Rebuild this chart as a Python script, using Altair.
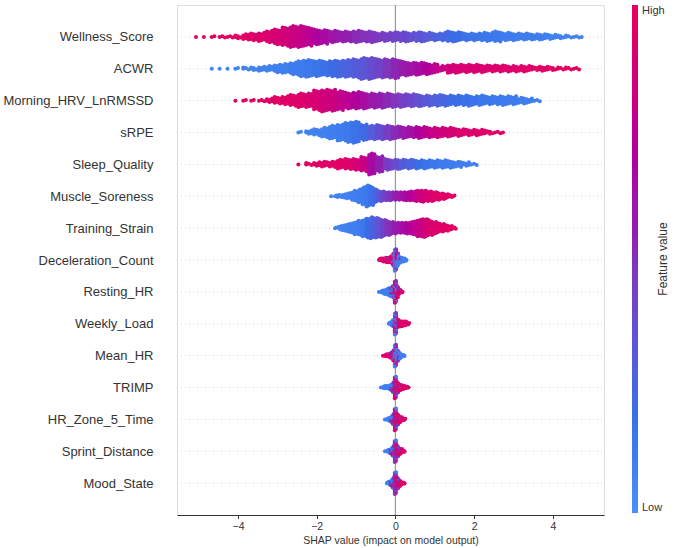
import math

import altair as alt
import pandas as pd

# Features, top row first
FEATURES = [
    "Wellness_Score", "ACWR", "Morning_HRV_LnRMSSD", "sRPE", "Sleep_Quality",
    "Muscle_Soreness", "Training_Strain", "Deceleration_Count", "Resting_HR",
    "Weekly_Load", "Mean_HR", "TRIMP", "HR_Zone_5_Time", "Sprint_Distance",
    "Mood_State",
]

X_TICKS = [-4, -2, 0, 2, 4]
X_DOMAIN = [-5.55, 5.3]

# SHAP values are binned: centre of the first bin and bin width for each feature
BIN_START = [-5.0, -4.6, -4.0, -2.4, -2.4, -1.6, -1.5,
             -0.4, -0.4, -0.4, -0.4, -0.4, -0.4, -0.4, -0.4]
BIN_STEP = [0.2, 0.2, 0.2, 0.2, 0.2, 0.1, 0.1,
            0.05, 0.05, 0.05, 0.05, 0.05, 0.05, 0.05, 0.05]

# Samples per bin (_N) and mean normalised feature value per bin (_FV)
WELLNESS_SCORE_N = [1, 1, 2, 3, 3, 5, 9, 11, 13, 18, 23, 28, 32, 32, 28, 23, 21, 18, 16, 16,
                    18, 16, 17, 13, 13, 14, 15, 13, 15, 13, 11, 12, 16, 14, 11, 11, 12, 13, 16, 12,
                    11, 10, 10, 9, 8, 7, 5, 4, 3, 1]
WELLNESS_SCORE_FV = [0.97, 0.97, 0.96, 0.96, 0.95, 0.95, 0.94, 0.93, 0.92, 0.9, 0.88, 0.85, 0.82,
                     0.78, 0.74, 0.7, 0.66, 0.62, 0.58, 0.55, 0.52, 0.5, 0.48, 0.46, 0.44, 0.42,
                     0.4, 0.37, 0.34, 0.31, 0.28, 0.25, 0.22, 0.2, 0.18, 0.16, 0.15, 0.14, 0.13,
                     0.12, 0.12, 0.11, 0.11, 0.1, 0.1, 0.09, 0.09, 0.08, 0.08, 0.08]

ACWR_N = [1, 1, 1, 2, 4, 5, 7, 8, 12, 14, 18, 24, 26, 24, 22, 24, 25, 26, 28, 32,
          32, 28, 28, 29, 22, 19, 19, 17, 14, 8, 13, 13, 12, 12, 11, 10, 10, 10, 9, 9,
          8, 6, 7, 5, 4, 4, 3]
ACWR_FV = [0.06, 0.06, 0.07, 0.07, 0.08, 0.08, 0.09, 0.09, 0.1, 0.1, 0.11, 0.12, 0.14, 0.16,
           0.18, 0.21, 0.24, 0.27, 0.3, 0.34, 0.38, 0.43, 0.48, 0.53, 0.58, 0.62, 0.66, 0.7,
           0.74, 0.8, 0.86, 0.88, 0.9, 0.9, 0.91, 0.92, 0.92, 0.93, 0.93, 0.94, 0.94, 0.95,
           0.95, 0.96, 0.96, 0.97, 0.97]

MORNING_HRV_N = [1, 2, 2, 3, 6, 10, 12, 16, 20, 20, 28, 31, 30, 27, 23, 24, 23, 21, 21, 20,
                 19, 19, 18, 17, 15, 15, 16, 14, 14, 15, 13, 14, 12, 12, 13, 12, 9, 7, 3]
MORNING_HRV_FV = [0.97, 0.97, 0.96, 0.96, 0.95, 0.95, 0.94, 0.93, 0.92, 0.9, 0.88, 0.85, 0.82,
                  0.78, 0.74, 0.7, 0.65, 0.6, 0.56, 0.52, 0.48, 0.44, 0.4, 0.36, 0.32, 0.28,
                  0.25, 0.22, 0.2, 0.18, 0.16, 0.15, 0.14, 0.13, 0.12, 0.12, 0.11, 0.1, 0.1]

SRPE_N = [2, 6, 10, 15, 20, 25, 30, 32, 24, 21, 22, 21, 19, 17, 16, 17, 16, 15, 14, 14,
          11, 10, 9, 8, 5, 3, 1]
SRPE_FV = [0.08, 0.08, 0.09, 0.09, 0.1, 0.11, 0.13, 0.17, 0.22, 0.3, 0.38, 0.45, 0.52, 0.58,
           0.64, 0.7, 0.76, 0.8, 0.84, 0.87, 0.9, 0.91, 0.92, 0.93, 0.94, 0.95, 0.96]

SLEEP_QUALITY_N = [1, 4, 6, 8, 9, 14, 16, 17, 22, 32, 24, 17, 15, 14, 14, 13, 13, 12, 12, 11,
                   9, 6, 3]
SLEEP_QUALITY_FV = [0.97, 0.96, 0.96, 0.95, 0.95, 0.94, 0.92, 0.88, 0.8, 0.66, 0.55, 0.45, 0.38,
                    0.3, 0.25, 0.2, 0.16, 0.14, 0.12, 0.11, 0.1, 0.1, 0.09]

MUSCLE_SORENESS_N = [1, 3, 4, 6, 8, 12, 16, 20, 26, 32, 28, 20, 15, 14, 13, 13, 12, 12, 12, 13,
                     14, 15, 16, 17, 16, 15, 13, 11, 9, 7, 4, 2]
MUSCLE_SORENESS_FV = [0.08, 0.08, 0.08, 0.09, 0.09, 0.1, 0.1, 0.11, 0.12, 0.14, 0.18, 0.25, 0.32,
                      0.4, 0.45, 0.5, 0.55, 0.6, 0.64, 0.68, 0.72, 0.75, 0.8, 0.84, 0.88, 0.91,
                      0.93, 0.94, 0.95, 0.96, 0.96, 0.97]

TRAINING_STRAIN_N = [2, 6, 9, 12, 15, 19, 22, 25, 29, 32, 30, 28, 25, 22, 19, 17, 16, 16, 17, 18,
                     21, 25, 27, 26, 22, 18, 14, 12, 9, 6, 3]
TRAINING_STRAIN_FV = [0.08, 0.08, 0.09, 0.09, 0.1, 0.1, 0.11, 0.14, 0.2, 0.25, 0.3, 0.35, 0.42,
                      0.48, 0.52, 0.56, 0.6, 0.64, 0.68, 0.72, 0.75, 0.78, 0.82, 0.86, 0.9, 0.92,
                      0.93, 0.94, 0.95, 0.96, 0.97]

# Narrow features: samples per bin split into high / mid / low feature-value groups
GROUP_FV = [0.93, 0.5, 0.1]

DECELERATION_COUNT_HI = [2, 4, 5, 6, 6, 6, 7, 8, 10, 3, 1, 0, 0, 0, 0, 0]
DECELERATION_COUNT_MID = [0, 0, 0, 0, 1, 1, 2, 6, 10, 6, 2, 1, 0, 0, 0, 0]
DECELERATION_COUNT_LO = [0, 0, 0, 0, 0, 0, 1, 4, 11, 10, 7, 6, 5, 4, 1, 0]

RESTING_HR_HI = [0, 0, 0, 0, 0, 0, 1, 4, 12, 9, 5, 3, 1, 0, 0, 0]
RESTING_HR_MID = [0, 0, 0, 0, 0, 1, 2, 6, 10, 5, 2, 1, 0, 0, 0, 0]
RESTING_HR_LO = [1, 3, 5, 7, 9, 10, 10, 8, 9, 3, 0, 0, 0, 0, 0, 0]

WEEKLY_LOAD_HI = [0, 0, 0, 0, 0, 0, 0, 1, 6, 5, 7, 7, 7, 6, 4, 2]
WEEKLY_LOAD_MID = [0, 0, 0, 0, 0, 0, 1, 3, 12, 4, 1, 0, 0, 0, 0, 0]
WEEKLY_LOAD_LO = [0, 0, 0, 0, 0, 2, 4, 6, 13, 3, 1, 0, 0, 0, 0, 0]

MEAN_HR_HI = [0, 0, 1, 3, 4, 5, 6, 7, 9, 3, 1, 0, 0, 0, 0, 0]
MEAN_HR_MID = [0, 0, 0, 0, 0, 1, 2, 5, 10, 5, 2, 1, 0, 0, 0, 0]
MEAN_HR_LO = [0, 0, 0, 0, 0, 0, 1, 3, 12, 8, 6, 4, 3, 1, 0, 0]

TRIMP_HI = [0, 0, 0, 0, 0, 0, 1, 3, 11, 8, 7, 6, 5, 4, 2, 1]
TRIMP_MID = [0, 0, 0, 0, 0, 1, 2, 5, 10, 5, 2, 1, 0, 0, 0, 0]
TRIMP_LO = [0, 1, 3, 4, 4, 5, 6, 7, 10, 3, 1, 0, 0, 0, 0, 0]

HR_ZONE_5_HI = [0, 0, 0, 0, 0, 0, 1, 3, 11, 8, 7, 5, 3, 2, 0, 0]
HR_ZONE_5_MID = [0, 0, 0, 0, 0, 1, 2, 5, 10, 5, 2, 1, 0, 0, 0, 0]
HR_ZONE_5_LO = [0, 0, 0, 1, 3, 4, 6, 7, 10, 3, 1, 0, 0, 0, 0, 0]

SPRINT_DISTANCE_HI = [0, 0, 0, 0, 0, 0, 1, 3, 10, 8, 6, 5, 3, 1, 0, 0]
SPRINT_DISTANCE_MID = [0, 0, 0, 0, 0, 1, 2, 5, 11, 5, 2, 1, 0, 0, 0, 0]
SPRINT_DISTANCE_LO = [0, 0, 0, 1, 3, 4, 5, 7, 10, 3, 1, 0, 0, 0, 0, 0]

MOOD_STATE_HI = [0, 0, 0, 0, 0, 0, 1, 3, 10, 8, 6, 4, 3, 1, 0, 0]
MOOD_STATE_MID = [0, 0, 0, 0, 0, 1, 2, 5, 11, 5, 2, 1, 0, 0, 0, 0]
MOOD_STATE_LO = [0, 0, 0, 0, 2, 4, 5, 7, 10, 3, 1, 0, 0, 0, 0, 0]

# Red-blue feature-value colour map
CMAP_STOPS = [0.0, 0.2, 0.4, 0.55, 0.7, 0.85, 1.0]
CMAP_COLORS = ["#4a90f7", "#3a6ee6", "#6a48cc", "#9020b0", "#b0009c", "#d0007a", "#e8005a"]


def split(hi, mid, lo):
    """Three feature-value groups sharing one set of bins."""
    return [(hi, [GROUP_FV[0]] * len(hi)),
            (mid, [GROUP_FV[1]] * len(mid)),
            (lo, [GROUP_FV[2]] * len(lo))]


GROUPS = [
    [(WELLNESS_SCORE_N, WELLNESS_SCORE_FV)],
    [(ACWR_N, ACWR_FV)],
    [(MORNING_HRV_N, MORNING_HRV_FV)],
    [(SRPE_N, SRPE_FV)],
    [(SLEEP_QUALITY_N, SLEEP_QUALITY_FV)],
    [(MUSCLE_SORENESS_N, MUSCLE_SORENESS_FV)],
    [(TRAINING_STRAIN_N, TRAINING_STRAIN_FV)],
    split(DECELERATION_COUNT_HI, DECELERATION_COUNT_MID, DECELERATION_COUNT_LO),
    split(RESTING_HR_HI, RESTING_HR_MID, RESTING_HR_LO),
    split(WEEKLY_LOAD_HI, WEEKLY_LOAD_MID, WEEKLY_LOAD_LO),
    split(MEAN_HR_HI, MEAN_HR_MID, MEAN_HR_LO),
    split(TRIMP_HI, TRIMP_MID, TRIMP_LO),
    split(HR_ZONE_5_HI, HR_ZONE_5_MID, HR_ZONE_5_LO),
    split(SPRINT_DISTANCE_HI, SPRINT_DISTANCE_MID, SPRINT_DISTANCE_LO),
    split(MOOD_STATE_HI, MOOD_STATE_MID, MOOD_STATE_LO),
]

N_ROWS = len(FEATURES)
ROW_HEIGHT = 0.4


def bin_stack(groups, b):
    """Feature values of every sample in bin b, groups interleaved evenly."""
    members = []
    for counts, fvs in groups:
        n = counts[b]
        members += [((k + 0.5) / n, fvs[b]) for k in range(n)]
    members.sort(key=lambda m: m[0])
    return [fv for _, fv in members]


# Beeswarm layout: samples in one bin are stacked alternately above and below the row line
records = []
for fi, feature in enumerate(FEATURES):
    row_y = N_ROWS - 1 - fi
    start, step = BIN_START[fi], BIN_STEP[fi]
    groups = GROUPS[fi]
    n_bins = max(len(counts) for counts, _ in groups)
    stacks = [bin_stack(groups, b) for b in range(n_bins)]
    max_level = max(math.ceil((len(s) - 1) / 2) for s in stacks if s)
    spacing = 0.9 * ROW_HEIGHT / (max_level + 1)
    for b, stack in enumerate(stacks):
        centre = start + b * step
        for layer, fv in enumerate(stack):
            level = math.ceil(layer / 2) * (1 if layer % 2 else -1)
            shift = ((layer % 3) - 1) * step / 3
            records.append({"feature": feature, "shap": centre + shift,
                            "row": row_y + level * spacing, "fv": fv})

points_df = pd.DataFrame(records)
grid_df = pd.DataFrame({"row": list(range(N_ROWS)),
                        "x_start": [X_DOMAIN[0]] * N_ROWS,
                        "x_end": [X_DOMAIN[1]] * N_ROWS})
zero_df = pd.DataFrame({"shap": [0]})
label_df = pd.DataFrame({"text": ["Feature value"]})

FONT = "Liberation Sans"
TEXT = "#333333"

label_expr = "[" + ",".join("'" + f + "'" for f in reversed(FEATURES)) + "][datum.value]"

x_scale = alt.Scale(domain=X_DOMAIN, nice=False, zero=False)
y_scale = alt.Scale(domain=[-1, N_ROWS], nice=False, zero=False)

x_axis = alt.Axis(values=X_TICKS, title="SHAP value (impact on model output)", grid=False,
                  tickSize=3.5, tickColor=TEXT, domainColor=TEXT, labelFontSize=10.5,
                  labelColor=TEXT, labelPadding=3, titleFontSize=10.5,
                  titleFontWeight="normal", titleColor=TEXT, titlePadding=3,
                  labelFont=FONT, titleFont=FONT)
y_axis = alt.Axis(values=list(range(N_ROWS)), labelExpr=label_expr, title=None, ticks=False,
                  domain=False, grid=False, labelFontSize=13, labelColor=TEXT,
                  labelPadding=24, labelFont=FONT)

grid = alt.Chart(grid_df).mark_rule(color="#cccccc", strokeWidth=0.8, strokeDash=[1, 3]).encode(
    x=alt.X("x_start:Q", scale=x_scale, axis=x_axis),
    x2="x_end:Q",
    y=alt.Y("row:Q", scale=y_scale, axis=y_axis),
)

zero_line = alt.Chart(zero_df).mark_rule(color="#999999", strokeWidth=1.2).encode(
    x=alt.X("shap:Q", scale=x_scale, axis=x_axis),
)

points = alt.Chart(points_df).mark_circle(size=16, opacity=1).encode(
    x=alt.X("shap:Q", scale=x_scale, axis=x_axis),
    y=alt.Y("row:Q", scale=y_scale, axis=y_axis),
    color=alt.Color(
        "fv:Q",
        scale=alt.Scale(domain=CMAP_STOPS, range=CMAP_COLORS),
        legend=alt.Legend(orient="none", legendX=455, legendY=0, direction="vertical",
                          gradientLength=508, gradientThickness=6, gradientStrokeWidth=0,
                          values=[0, 1], labelExpr="datum.value >= 1 ? 'High' : 'Low'",
                          title=None, padding=0, labelFontSize=11, labelColor=TEXT,
                          labelFont=FONT, labelOffset=4, labelBaseline="middle"),
    ),
)

colorbar_title = alt.Chart(label_df).mark_text(
    angle=270, fontSize=12, font=FONT, color=TEXT, align="center", baseline="middle"
).encode(x=alt.value(486), y=alt.value(254), text="text:N")

chart = alt.layer(grid, zero_line, points, colorbar_title).properties(
    width=427,
    height=510,
    padding={"left": 177, "top": 5, "right": 71, "bottom": 33},
    autosize=alt.AutoSizeParams(type="none"),
).configure_view(strokeWidth=0).configure(font=FONT, background="white")

chart.save("out.html", embed_options={"renderer": "svg", "actions": False})
